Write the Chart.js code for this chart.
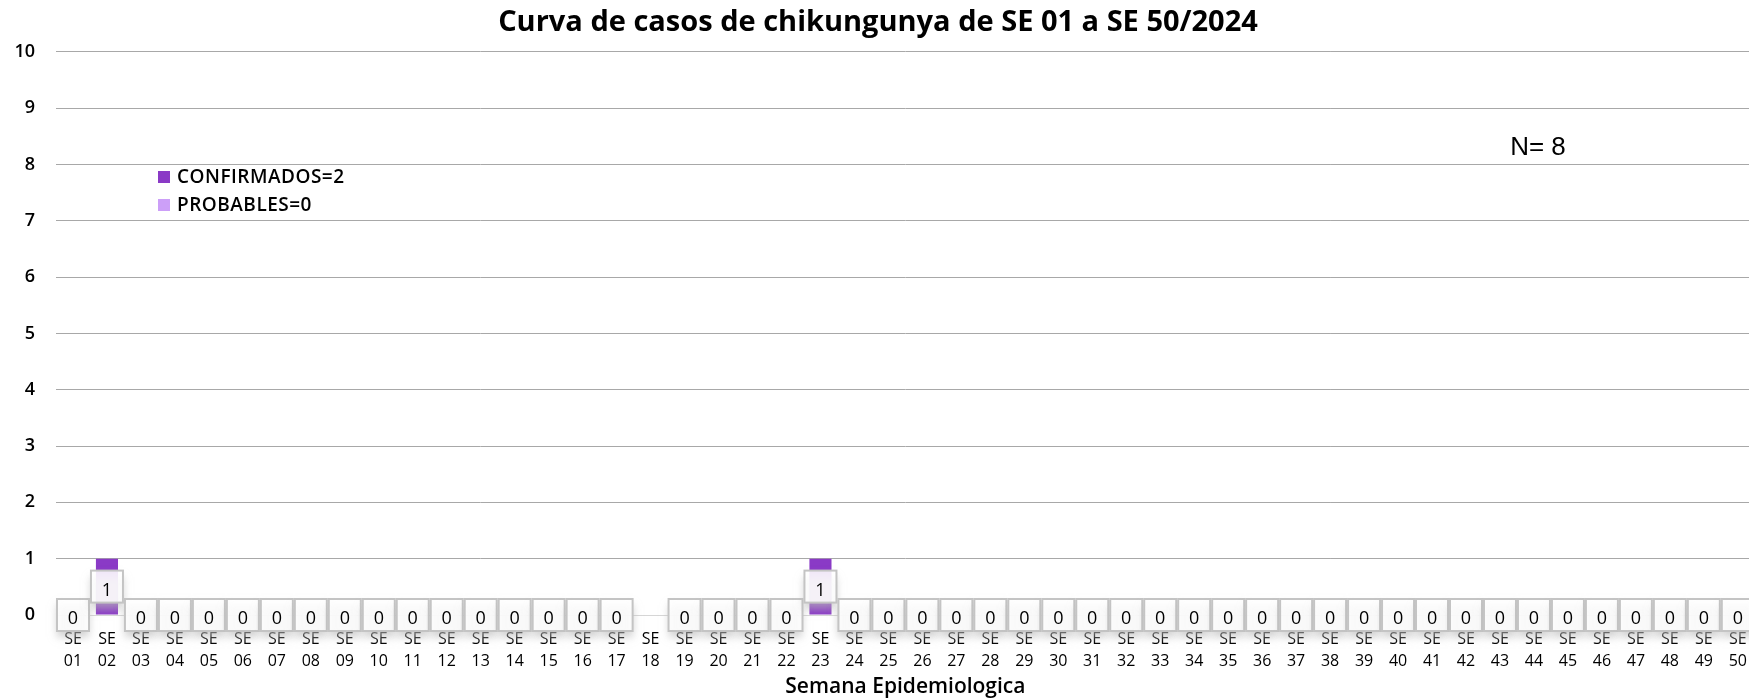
<!DOCTYPE html>
<html>
<head>
<meta charset="utf-8">
<title>Curva de casos de chikungunya</title>
<script src="https://cdn.jsdelivr.net/npm/chart.js@4.4.1/dist/chart.umd.min.js"></script>
<style>
  body { margin: 0; background: #fff; overflow: hidden; }
  #wrap { width: 1760px; height: 700px; }
</style>
</head>
<body>
<div id="wrap"><canvas id="curvaChart" width="1760" height="700"></canvas></div>
<script>
// semanas epidemiologicas SE 01 .. SE 50
const semanas = ['01','02','03','04','05','06','07','08','09','10',
                 '11','12','13','14','15','16','17','18','19','20',
                 '21','22','23','24','25','26','27','28','29','30',
                 '31','32','33','34','35','36','37','38','39','40',
                 '41','42','43','44','45','46','47','48','49','50'];

// SE 18 sin dato en el original (null)
const confirmados = [0,1,0,0,0,0,0,0,0,0,
                     0,0,0,0,0,0,0,null,0,0,
                     0,0,1,0,0,0,0,0,0,0,
                     0,0,0,0,0,0,0,0,0,0,
                     0,0,0,0,0,0,0,0,0,0];
const probables = [0,0,0,0,0,0,0,0,0,0,
                   0,0,0,0,0,0,0,null,0,0,
                   0,0,0,0,0,0,0,0,0,0,
                   0,0,0,0,0,0,0,0,0,0,
                   0,0,0,0,0,0,0,0,0,0];
const totalN = 8;
const yMax = 10;

const colorConf = '#8a3ac6';
const colorProb = '#cc9ff8';
const fontMain = "'Open Sans', 'Noto Sans', sans-serif";

function sum(arr) {
  return arr.reduce((a, b) => a + (b || 0), 0);
}

// cajitas con el valor sobre cada barra
const boxLabels = {
  id: 'boxLabels',
  afterDatasetsDraw(chart) {
    const ctx = chart.ctx;
    const meta = chart.getDatasetMeta(0);
    meta.data.forEach((bar, i) => {
      const v = confirmados[i];
      if (v === null || v === undefined) return;
      const cy = (bar.y + bar.base) / 2;
      const w = 32, h = 32;
      ctx.save();
      ctx.shadowColor = 'rgba(185,185,185,0.75)';
      ctx.shadowBlur = 8;
      ctx.shadowOffsetY = 6;
      ctx.fillStyle = 'rgba(255,255,255,0.88)';
      ctx.fillRect(bar.x - w / 2, cy - h / 2, w, h);
      ctx.restore();
      ctx.save();
      ctx.strokeStyle = '#c4c4c4';
      ctx.lineWidth = 2;
      ctx.strokeRect(bar.x - w / 2, cy - h / 2, w, h);
      ctx.fillStyle = '#000';
      ctx.font = '500 18px ' + fontMain;
      ctx.textAlign = 'center';
      ctx.textBaseline = 'middle';
      ctx.fillText(String(v), bar.x, cy + 4);
      ctx.restore();
    });
  }
};

// leyenda flotante y N total
const extras = {
  id: 'extras',
  afterDraw(chart) {
    const ctx = chart.ctx;
    const items = [
      { text: 'CONFIRMADOS=' + sum(confirmados), color: colorConf },
      { text: 'PROBABLES=' + sum(probables), color: colorProb }
    ];
    ctx.save();
    ctx.font = '600 19px ' + fontMain;
    ctx.letterSpacing = '0.5px';
    ctx.textBaseline = 'middle';
    items.forEach((it, k) => {
      const y = 177 + k * 28;
      ctx.fillStyle = it.color;
      ctx.fillRect(158, y - 6, 12, 12);
      ctx.fillStyle = '#000';
      ctx.fillText(it.text, 177, y + 1);
    });
    ctx.letterSpacing = '0px';
    ctx.font = "26px 'Liberation Sans', Arial, sans-serif";
    ctx.textAlign = 'center';
    ctx.fillStyle = '#000';
    ctx.fillText('N= ' + totalN, 1538, 148);
    ctx.restore();
  }
};

const ctx = document.getElementById('curvaChart').getContext('2d');
const chart = new Chart(ctx, {
  type: 'bar',
  data: {
    labels: semanas.map(s => ['SE', s]),
    datasets: [
      { label: 'CONFIRMADOS', data: confirmados, backgroundColor: colorConf },
      { label: 'PROBABLES', data: probables, backgroundColor: colorProb }
    ]
  },
  options: {
    responsive: false,
    animation: false,
    barPercentage: 0.65,
    categoryPercentage: 1,
    layout: { padding: { top: 0, right: 4, bottom: 0, left: 0 } },
    plugins: {
      legend: { display: false },
      tooltip: { enabled: false },
      title: {
        display: true,
        text: 'Curva de casos de chikungunya de SE 01 a SE 50/2024',
        color: '#000',
        font: { family: fontMain, size: 29, weight: 'bold' },
        padding: { top: 5, bottom: 12 }
      }
    },
    scales: {
      x: {
        stacked: true,
        afterFit(axis) { axis.height = 85; },
        grid: { display: false, drawTicks: false },
        border: { display: false },
        ticks: {
          color: '#000',
          font: { family: fontMain, size: 16, weight: '500', lineHeight: 1.375 },
          padding: 13,
          maxRotation: 0,
          autoSkip: false
        },
        title: {
          display: true,
          text: 'Semana Epidemiologica',
          color: '#000',
          font: { family: fontMain, size: 21, weight: '600' },
          padding: { top: 0, bottom: 0 }
        }
      },
      y: {
        stacked: true,
        min: 0,
        max: yMax,
        afterFit(axis) { axis.width = 56; },
        grid: {
          color: c => c.tick && c.tick.value === 0 ? '#d6d6d6' : '#a8a8a8',
          lineWidth: 1,
          drawTicks: false
        },
        border: { display: false },
        ticks: {
          stepSize: 1,
          color: '#000',
          padding: 21,
          font: { family: fontMain, size: 18, weight: '600' }
        }
      }
    }
  },
  plugins: [boxLabels, extras]
});
</script>
</body>
</html>
